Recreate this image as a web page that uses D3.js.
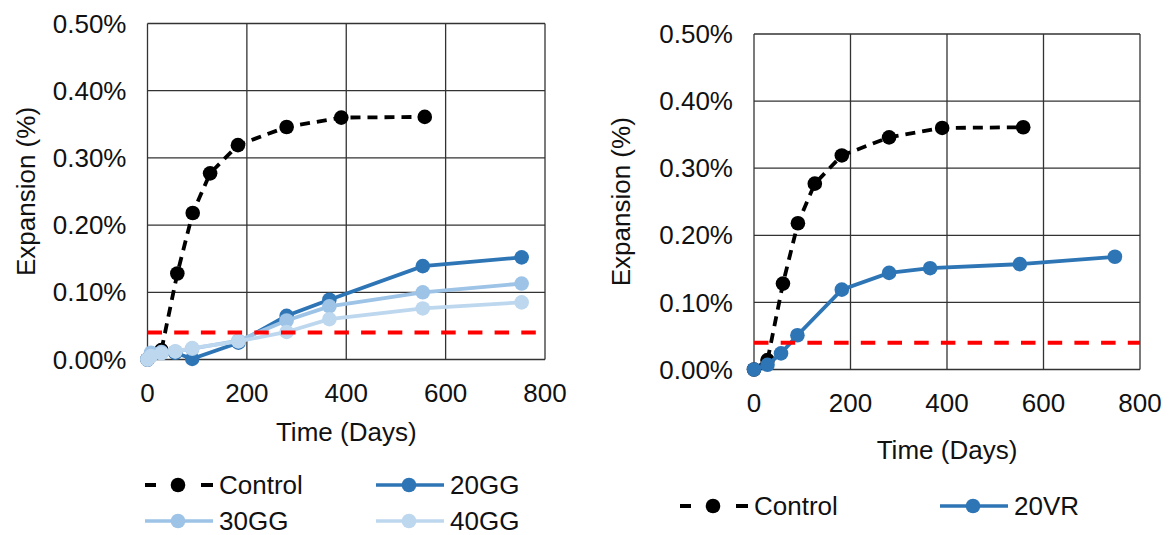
<!DOCTYPE html>
<meta charset="utf-8">
<script src="https://d3js.org/d3.v7.min.js"></script>
<style>
  body { margin: 0; background: #fff; }
  svg text { font-family: "Liberation Sans", Arial, sans-serif; font-size: 26px; fill: #111; }
</style>
<div id="chart"></div>
<script>
// data
var controlDays = [0, 28, 60, 91, 126, 182, 280, 390, 558];
var controlExp  = [0, 0.014, 0.128, 0.218, 0.277, 0.319, 0.346, 0.360, 0.361];

var ggDays  = [0, 7, 28, 56, 90, 183, 280, 366, 554, 753];
var gg20Exp = [0, 0.008, 0.010, 0.010, 0.001, 0.025, 0.065, 0.089, 0.139, 0.152];
var gg30Exp = [0, 0.010, 0.011, 0.012, 0.016, 0.028, 0.058, 0.079, 0.100, 0.113];
var gg40Exp = [0, 0.005, 0.009, 0.012, 0.017, 0.027, 0.041, 0.060, 0.076, 0.085];

var vrDays  = [0, 28, 56, 90, 182, 280, 365, 551, 748];
var vr20Exp = [0, 0.007, 0.024, 0.051, 0.119, 0.144, 0.151, 0.157, 0.168];

var limitExp = 0.04;
var xTicks = [0, 200, 400, 600, 800];
var yTicks = [0, 0.1, 0.2, 0.3, 0.4, 0.5];

var svg = d3.select("#chart").append("svg")
  .attr("width", 1169).attr("height", 535);

function zip(xs, ys) { return xs.map(function(d, i) { return {x: d, y: ys[i]}; }); }

var fmt = function(d) { return d.toFixed(2) + "%"; };

function panel(opt) {
  var x = d3.scaleLinear().domain([0, 800]).range([opt.x0, opt.x1]);
  var y = d3.scaleLinear().domain([0, 0.5]).range([opt.y1, opt.y0]);
  var g = svg.append("g");

  // grid + frame
  g.selectAll(".vg").data(xTicks).enter().append("line")
    .attr("x1", function(d) { return x(d); }).attr("x2", function(d) { return x(d); })
    .attr("y1", y(0)).attr("y2", y(0.5))
    .attr("stroke", "#333").attr("stroke-width", 1.3);
  g.selectAll(".hg").data(yTicks).enter().append("line")
    .attr("y1", function(d) { return y(d); }).attr("y2", function(d) { return y(d); })
    .attr("x1", x(0)).attr("x2", x(800))
    .attr("stroke", "#333").attr("stroke-width", 1.3);

  // tick labels
  g.selectAll(".xt").data(xTicks).enter().append("text")
    .attr("x", function(d) { return x(d); }).attr("y", y(0) + 33)
    .attr("dy", "0.35em").attr("text-anchor", "middle")
    .text(function(d) { return d; });
  g.selectAll(".yt").data(yTicks).enter().append("text")
    .attr("x", x(0) - 21).attr("y", function(d) { return y(d); })
    .attr("dy", "0.35em").attr("text-anchor", "end")
    .text(fmt);

  // axis titles
  g.append("text").attr("x", (opt.x0 + opt.x1) / 2).attr("y", opt.xTitleY)
    .attr("dy", "0.35em").attr("text-anchor", "middle").text("Time (Days)");
  g.append("text")
    .attr("transform", "translate(" + opt.yTitleX + "," + ((opt.y0 + opt.y1) / 2) + ") rotate(-90)")
    .attr("dy", "0.35em").attr("text-anchor", "middle").text("Expansion (%)");

  var line = d3.line().x(function(d) { return x(d.x); }).y(function(d) { return y(d.y); });

  opt.series.forEach(function(s) {
    g.append("path").datum(s.data).attr("d", line)
      .attr("fill", "none").attr("stroke", s.color).attr("stroke-width", 3.8)
      .attr("stroke-dasharray", s.dash ? "10,7" : null);
    g.selectAll(null).data(s.data).enter().append("circle")
      .attr("cx", function(d) { return x(d.x); }).attr("cy", function(d) { return y(d.y); })
      .attr("r", 7.3).attr("fill", s.color);
  });

  // limit line
  g.append("line").attr("x1", x(0)).attr("x2", x(800))
    .attr("y1", y(limitExp)).attr("y2", y(limitExp))
    .attr("stroke", "#ff0000").attr("stroke-width", 4).attr("stroke-dasharray", "14.5,12.2");

  // legend
  opt.series.forEach(function(s, i) {
    var lx = opt.legX[i % 2], ly = opt.legY[Math.floor(i / 2)];
    var lg = g.append("g").attr("transform", "translate(" + lx + "," + ly + ")");
    lg.append("line").attr("x1", 0).attr("x2", 68).attr("y1", 0).attr("y2", 0)
      .attr("stroke", s.color).attr("stroke-width", s.dash ? 4 : 3.6)
      .attr("stroke-dasharray", s.dash ? "11,45,12" : null);
    lg.append("circle").attr("cx", 33).attr("cy", 0).attr("r", 7.3).attr("fill", s.color);
    lg.append("text").attr("x", 74).attr("y", 0).attr("dy", "0.35em").text(s.name);
  });
}

panel({
  x0: 147.5, x1: 545, y0: 23.5, y1: 359.5,
  xTitleY: 432, yTitleX: 26,
  legX: [145, 376], legY: [485, 521],
  series: [
    {name: "Control", color: "#000", dash: true, data: zip(controlDays, controlExp)},
    {name: "20GG", color: "#2e75b6", data: zip(ggDays, gg20Exp)},
    {name: "30GG", color: "#9dc3e6", data: zip(ggDays, gg30Exp)},
    {name: "40GG", color: "#bdd7ee", data: zip(ggDays, gg40Exp)}
  ]
});

panel({
  x0: 754, x1: 1140, y0: 34, y1: 369.5,
  xTitleY: 450, yTitleX: 621,
  legX: [680, 940], legY: [506],
  series: [
    {name: "Control", color: "#000", dash: true, data: zip(controlDays, controlExp)},
    {name: "20VR", color: "#2e75b6", data: zip(vrDays, vr20Exp)}
  ]
});
</script>
